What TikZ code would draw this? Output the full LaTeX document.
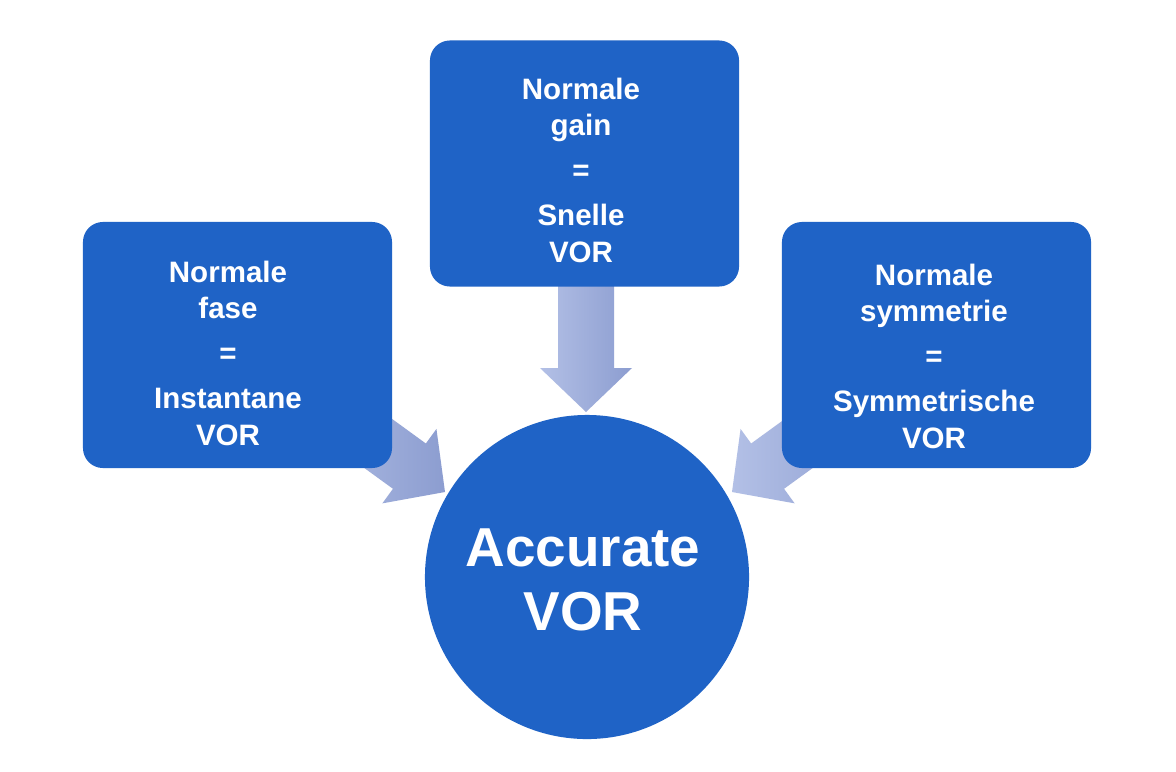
\documentclass[tikz,border=0pt]{standalone}
\usepackage{fontspec}
\setmainfont{Liberation Sans}
\definecolor{boxblue}{HTML}{1F63C6}
\definecolor{arlight}{HTML}{B3C0E6}
\definecolor{ardark}{HTML}{8C9DD0}
\begin{document}
\begin{tikzpicture}[x=0.025cm,y=-0.025cm,
  box/.style={fill=boxblue,rounded corners=0.5cm,minimum width=7.725cm,minimum height=6.15cm,inner sep=0pt},
  lbl/.style={text=white,font=\bfseries\fontsize{21}{26}\selectfont,align=center},
  arr/.style={left color=arlight,right color=ardark,draw=none}]
\useasboundingbox (0,0) rectangle (1176,771);
\fill[white] (0,0) rectangle (1176,771);
% arrows (local: tip at origin, pointing +x)
\newcommand{\myarrow}{(0,0) -- (-44,-46) -- (-44,-28) -- (-170,-28) -- (-170,28) -- (-44,28) -- (-44,46) -- cycle}
\begin{scope}[shift={(586,412)},rotate=-90]
\shade[arr] \myarrow;
\end{scope}
\begin{scope}[shift={(445,492)},rotate=-36]
\shade[arr] \myarrow;
\end{scope}
\begin{scope}[shift={(732,492)},rotate=-144]
\shade[arr] \myarrow;
\end{scope}
\node[box] (l) at (237.5,345) {};
\node[box] (t) at (584.5,163.5) {};
\node[box] (r) at (936.5,345) {};
\node[lbl] (lt) at (228,353) {Normale\\fase\\[6pt]=\\[6pt]Instantane\\VOR};
\node[lbl] (tt) at (581,170) {Normale\\gain\\[6pt]=\\[6pt]Snelle\\VOR};
\node[lbl] (rt) at (934,356) {Normale\\symmetrie\\[6pt]=\\[6pt]Symmetrische\\VOR};
\node[circle,fill=boxblue,minimum size=8.1cm,inner sep=0pt] (c) at (587,577) {};
\node[text=white,font=\bfseries\fontsize{39}{46}\selectfont,align=center] (ct) at (583,580) {Accurate\\VOR};
\end{tikzpicture}
\end{document}
